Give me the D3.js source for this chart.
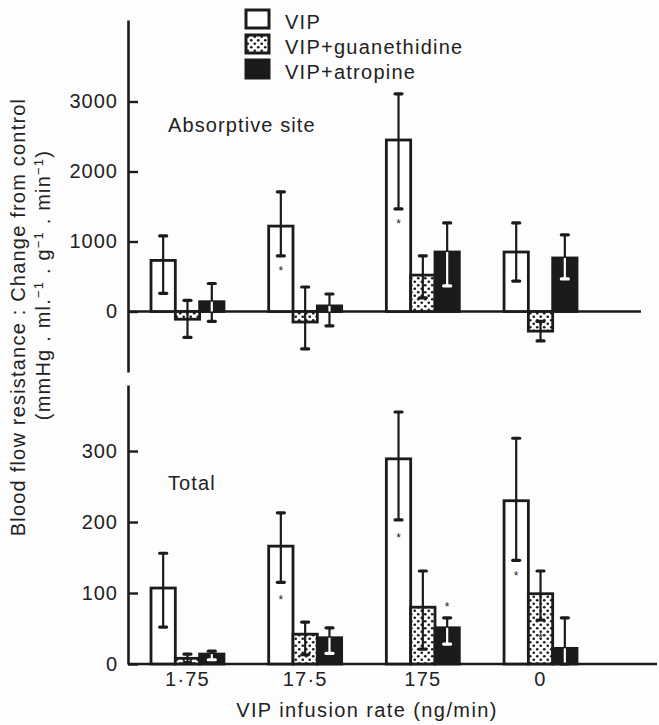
<!DOCTYPE html>
<html><head><meta charset="utf-8">
<script src="https://cdn.jsdelivr.net/npm/d3@7"></script>
<style>
body{margin:0;background:#fff}
text{font-family:"Liberation Sans",Arial,Helvetica,sans-serif;fill:#222;font-size:20px}
</style>
</head><body>
<svg id="c" width="659" height="725"></svg>
<script>
// ---------- data ----------
const categories = ["1·75", "17·5", "175", "0"];
const seriesNames = ["VIP", "VIP+guanethidine", "VIP+atropine"];

// Absorptive site (mean, upper and lower end of error bar)
const absVIP    = [730, 1220, 2450, 850];
const absVIPHi  = [1080, 1710, 3110, 1265];
const absVIPLo  = [260, 795, 1465, 435];
const absGuan   = [-110, -150, 520, -280];
const absGuanHi = [160, 350, 795, -140];
const absGuanLo = [-370, -535, 195, -420];
const absAtro   = [140, 80, 850, 765];
const absAtroHi = [400, 250, 1265, 1095];
const absAtroLo = [-140, -205, 365, 465];

// Total
const totVIP    = [107, 166, 289, 230];
const totVIPHi  = [156, 213, 355, 318];
const totVIPLo  = [52, 115, 203, 146];
const totGuan   = [8, 42, 80, 99];
const totGuanHi = [14, 59, 131, 131];
const totGuanLo = [2, 13, 21, 62];
const totAtro   = [14, 37, 51, 22];
const totAtroHi = [18, 51, 65, 65];
const totAtroLo = [6, 15, 28, 0];

// significance marks: [category index, series index, value]
const absStars = [[1, 0, 595], [2, 0, 1265]];
const totStars = [[1, 0, 91], [2, 0, 179], [2, 2, 82], [3, 0, 125], [3, 1, 38]];

const absTicks = [0, 1000, 2000, 3000];
const totTicks = [0, 100, 200, 300];

// ---------- drawing ----------
const svg = d3.select("#c");
const INK = "#1b1b1b";
svg.append("rect").attr("width", 659).attr("height", 725).attr("fill", "#fdfdfd");

const defs = svg.append("defs");
const pat = defs.append("pattern").attr("id", "dots").attr("width", 7).attr("height", 7)
  .attr("patternUnits", "userSpaceOnUse");
pat.append("rect").attr("width", 7).attr("height", 7).attr("fill", "#fff");
pat.append("circle").attr("cx", 1.75).attr("cy", 1.75).attr("r", 1.35).attr("fill", INK);
pat.append("circle").attr("cx", 5.25).attr("cy", 5.25).attr("r", 1.35).attr("fill", INK);

const fills = ["#ffffff", "url(#dots)", INK];

const x0 = d3.scaleBand().domain(categories).range([151, 577]).paddingInner(0.38).paddingOuter(0);
const x1 = d3.scaleBand().domain(d3.range(seriesNames.length)).range([0, x0.bandwidth()]);

const AXIS_X = 128;

function panel(cfg) {
  const y = d3.scaleLinear().domain(cfg.domain).range(cfg.range);
  const g = svg.append("g");

  // zero line
  g.append("line").attr("x1", AXIS_X).attr("x2", cfg.zeroEnd)
    .attr("y1", y(0)).attr("y2", y(0)).attr("stroke", INK).attr("stroke-width", 2.6);

  // bars
  const rows = [];
  cfg.series.forEach((s, si) => {
    s.mean.forEach((m, ci) => rows.push({ci, si, m, hi: s.hi[ci], lo: s.lo[ci]}));
  });

  g.selectAll("rect.bar").data(rows).join("rect").attr("class", "bar")
    .attr("x", d => x0(categories[d.ci]) + x1(d.si))
    .attr("width", x1.bandwidth())
    .attr("y", d => y(Math.max(0, d.m)))
    .attr("height", d => Math.abs(y(d.m) - y(0)))
    .attr("fill", d => fills[d.si])
    .attr("stroke", INK).attr("stroke-width", 2.8);

  // error bars
  rows.forEach(d => {
    const cx = x0(categories[d.ci]) + x1(d.si) + x1.bandwidth() / 2;
    const bMin = Math.min(0, d.m), bMax = Math.max(0, d.m);
    g.append("line").attr("x1", cx).attr("x2", cx).attr("y1", y(d.lo)).attr("y2", y(d.hi))
      .attr("stroke", INK).attr("stroke-width", 2.2);
    const inner = d.si === 2 ? "#fff" : INK;
    if (d.si === 2) {
      const a = Math.max(d.lo, bMin), b = Math.min(d.hi, bMax);
      if (b > a) {
        g.append("line").attr("x1", cx).attr("x2", cx).attr("y1", y(a)).attr("y2", y(b))
          .attr("stroke", "#fff").attr("stroke-width", 2.2);
      }
    }
    [d.hi, d.lo].forEach(v => {
      const inside = v > bMin && v < bMax;
      g.append("line").attr("x1", cx - 3.5).attr("x2", cx + 3.5).attr("y1", y(v)).attr("y2", y(v))
        .attr("stroke", inside ? inner : INK).attr("stroke-width", 3.2).attr("stroke-linecap", "round");
    });
  });

  // significance marks
  g.selectAll("text.star").data(cfg.stars).join("text").attr("class", "star")
    .attr("x", d => x0(categories[d[0]]) + x1(d[1]) + x1.bandwidth() / 2)
    .attr("y", d => y(d[2]) + 5)
    .attr("text-anchor", "middle").style("font-size", "12px").text("*");

  // y axis
  const ax = g.append("g").attr("transform", `translate(${AXIS_X},0)`)
    .call(d3.axisLeft(y).tickValues(cfg.ticks).tickFormat(d3.format("d"))
      .tickSizeInner(-10).tickSizeOuter(0).tickPadding(10));
  ax.select(".domain").attr("stroke", INK).attr("stroke-width", 2.6);
  ax.selectAll(".tick line").attr("stroke", INK).attr("stroke-width", 2.4);
  ax.selectAll(".tick text").style("font-size", "20px").style("letter-spacing", "1px")
    .attr("fill", "#222").attr("font-family", null);

  // panel label
  g.append("text").attr("x", 168).attr("y", cfg.labelY).style("letter-spacing", "1.1px").text(cfg.label);
  return y;
}

panel({
  domain: [-864, 4164], range: [372, 20], zeroEnd: 641, ticks: absTicks,
  label: "Absorptive site", labelY: 132, stars: absStars,
  series: [
    {mean: absVIP, hi: absVIPHi, lo: absVIPLo},
    {mean: absGuan, hi: absGuanHi, lo: absGuanLo},
    {mean: absAtro, hi: absAtroHi, lo: absAtroLo}
  ]
});

panel({
  domain: [0, 393], range: [664, 385], zeroEnd: 657, ticks: totTicks,
  label: "Total", labelY: 490, stars: totStars,
  series: [
    {mean: totVIP, hi: totVIPHi, lo: totVIPLo},
    {mean: totGuan, hi: totGuanHi, lo: totGuanLo},
    {mean: totAtro, hi: totAtroHi, lo: totAtroLo}
  ]
});

// x axis labels
const xa = svg.append("g").attr("transform", "translate(0,668)")
  .call(d3.axisBottom(x0).tickSize(0).tickPadding(4));
xa.select(".domain").remove();
xa.selectAll(".tick text").style("font-size", "20px").style("letter-spacing", "1.2px")
  .attr("fill", "#222").attr("font-family", null);

svg.append("text").attr("x", 367).attr("y", 717).attr("text-anchor", "middle")
  .style("letter-spacing", "1.4px").text("VIP infusion rate (ng/min)");

// y axis title
svg.append("text").attr("transform", "translate(25,317) rotate(-90)").attr("text-anchor", "middle")
  .style("letter-spacing", "1.2px").text("Blood flow resistance : Change from control");
const t2 = svg.append("text").attr("transform", "translate(50,285) rotate(-90)").attr("text-anchor", "middle")
  .style("letter-spacing", "1.2px");
t2.append("tspan").text("(mmHg . ml.");
t2.append("tspan").attr("dy", -7).style("font-size", "13px").text("−1");
t2.append("tspan").attr("dy", 7).text(" . g");
t2.append("tspan").attr("dy", -7).style("font-size", "13px").text("−1");
t2.append("tspan").attr("dy", 7).text(" . min");
t2.append("tspan").attr("dy", -7).style("font-size", "13px").text("−1");
t2.append("tspan").attr("dy", 7).text(")");

// legend
const leg = svg.append("g").selectAll("g").data(seriesNames).join("g")
  .attr("transform", (d, i) => `translate(246,${10 + i * 25})`);
leg.append("rect").attr("width", 23).attr("height", 18)
  .attr("fill", (d, i) => fills[i]).attr("stroke", INK).attr("stroke-width", 3);
leg.append("text").attr("x", 39).attr("y", 19).style("letter-spacing", "1.25px").text(d => d);
</script>
</body></html>
